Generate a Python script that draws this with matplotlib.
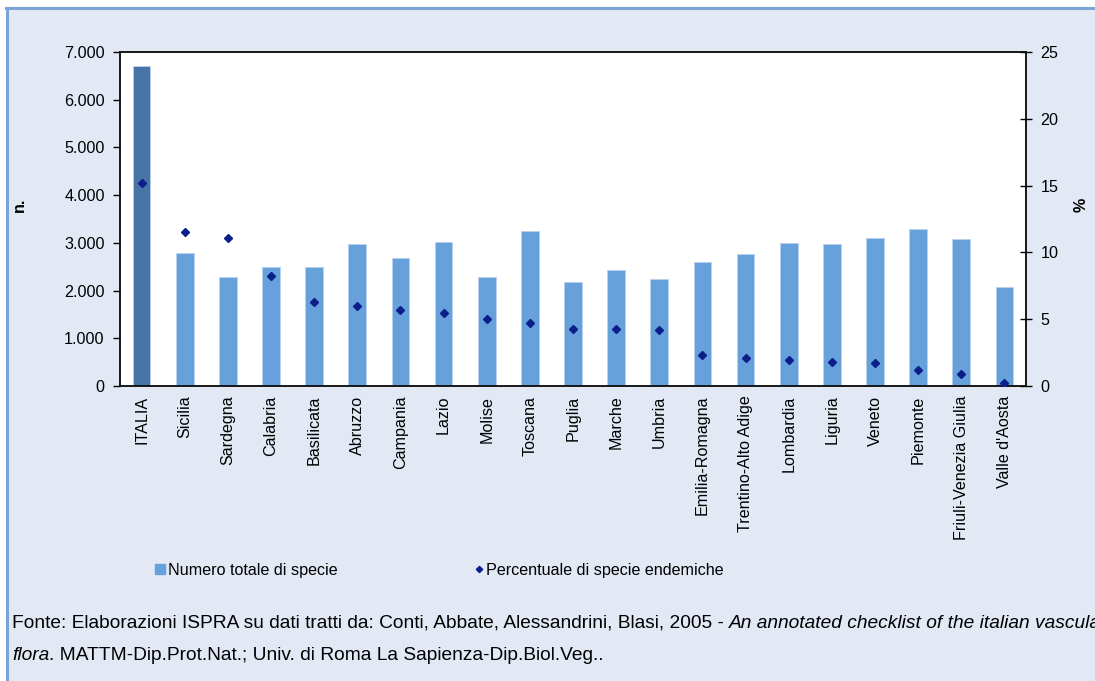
import matplotlib
matplotlib.use("Agg")
import matplotlib.pyplot as plt
from matplotlib.patches import Rectangle
from matplotlib.lines import Line2D
from matplotlib import font_manager
import numpy as np

regioni = ["ITALIA", "Sicilia", "Sardegna", "Calabria", "Basilicata", "Abruzzo",
           "Campania", "Lazio", "Molise", "Toscana", "Puglia", "Marche", "Umbria",
           "Emilia-Romagna", "Trentino-Alto Adige", "Lombardia", "Liguria",
           "Veneto", "Piemonte", "Friuli-Venezia Giulia", "Valle d'Aosta"]
numero_specie = [6711, 2790, 2285, 2495, 2490, 2978, 2683, 3025, 2292, 3243,
                 2187, 2425, 2236, 2600, 2767, 3004, 2970, 3096, 3298, 3082, 2069]
perc_endemiche = [15.2, 11.5, 11.1, 8.2, 6.3, 6.0, 5.7, 5.45, 5.0, 4.75,
                  4.3, 4.3, 4.2, 2.3, 2.1, 1.95, 1.8, 1.7, 1.2, 0.87, 0.25]
yticks_left = [0, 1000, 2000, 3000, 4000, 5000, 6000, 7000]
yticks_right = [0, 5, 10, 15, 20, 25]

plt.rcParams['font.family'] = ['Liberation Sans', 'DejaVu Sans']

installed = {f.name for f in font_manager.fontManager.ttflist}
narrow = 'Liberation Sans Narrow' if 'Liberation Sans Narrow' in installed else 'Liberation Sans'
note_size = 13 if narrow == 'Liberation Sans Narrow' else 13.8
fs = 11.6

bg = '#E2E9F5'
bar_col = '#66A1DC'
italia_col = '#4674A6'
dot_col = '#0B1E8A'

fig = plt.figure(figsize=(10.95, 6.81), dpi=100)
fig.patch.set_facecolor('white')
W, H = 1095.0, 681.0
# background panel with blue frame on top / left
fig.patches.append(Rectangle((8 / W, -0.1), 1.2, (H - 8) / H + 0.1, transform=fig.transFigure,
                             facecolor=bg, edgecolor='none', zorder=-10))
fig.lines.append(Line2D([7 / W, 7 / W], [-0.1, (H - 7.5) / H], transform=fig.transFigure,
                        color='#7AA3D6', lw=2.2, zorder=-5))
fig.lines.append(Line2D([6 / W, 1.1], [(H - 7.5) / H, (H - 7.5) / H], transform=fig.transFigure,
                        color='#7AA3D6', lw=2.2, zorder=-5))

ax = fig.add_axes([120 / W, (H - 386) / H, (1026 - 120) / W, (386 - 52) / H])
ax.set_facecolor('white')
x = np.arange(len(regioni))
colors = [italia_col] + [bar_col] * (len(regioni) - 1)
ax.bar(x, numero_specie, width=0.41, color=colors, edgecolor='#B8D2EE', linewidth=0.6, zorder=2)
ax.set_xlim(-0.5, len(regioni) - 0.5)
ax.set_ylim(0, 7000)
ax.set_yticks(yticks_left)
ax.set_yticklabels([f"{v:,}".replace(",", ".") for v in yticks_left], fontsize=fs)
ax.set_xticks(x)
ax.set_xticklabels(regioni, rotation=90, fontsize=fs)
ax.tick_params(axis='x', length=0, pad=7)
ax.tick_params(axis='y', direction='out', length=5, width=1, pad=6)
ax.set_ylabel('n.', fontsize=fs, fontweight='bold')
ax.yaxis.set_label_coords((27 - 120) / 906, 0.542)
for s in ax.spines.values():
    s.set_linewidth(1.1)
    s.set_color('#111111')

ax2 = ax.twinx()
ax2.plot(x, perc_endemiche, linestyle='none', marker='D', markersize=4.5,
         color=dot_col, zorder=3)
ax2.set_ylim(0, 25)
ax2.set_yticks(yticks_right)
ax2.set_yticklabels([str(v) for v in yticks_right], fontsize=fs)
ax2.tick_params(axis='y', direction='inout', length=9, width=1, pad=6)
ax2.set_ylabel('%', fontsize=fs, fontweight='bold')
ax2.yaxis.set_label_coords((1074 - 120) / 906, 0.542)
for s in ax2.spines.values():
    s.set_linewidth(1.1)
    s.set_color('#111111')

# legend
handles = [Line2D([], [], linestyle='none', marker='s', markersize=6.5, color=bar_col),
           Line2D([], [], linestyle='none', marker='D', markersize=3.2, color=dot_col)]
fig.legend(handles, ['Numero totale di specie', 'Percentuale di specie endemiche'],
           loc='center left', bbox_to_anchor=(141 / W, (H - 570) / H), ncol=2,
           frameon=False, fontsize=fs, handlelength=0.6, handletextpad=0.15,
           columnspacing=8.5)

# source note
y1 = (H - 623) / H
y2 = (H - 655) / H
t1 = fig.text(12 / W, y1, 'Fonte: Elaborazioni ISPRA su dati tratti da: Conti, Abbate, Alessandrini, Blasi, 2005 - ',
              fontsize=note_size, family=narrow, va='center', ha='left')
fig.canvas.draw()
bb = t1.get_window_extent()
fig.text(bb.x1 / W, y1, 'An annotated checklist of the italian vascular',
         fontsize=note_size, family=narrow, style='italic', va='center', ha='left')
t2 = fig.text(12 / W, y2, 'flora', fontsize=note_size, family=narrow, style='italic',
              va='center', ha='left')
fig.canvas.draw()
bb2 = t2.get_window_extent()
fig.text(bb2.x1 / W, y2, '. MATTM-Dip.Prot.Nat.; Univ. di Roma La Sapienza-Dip.Biol.Veg..',
         fontsize=note_size, family=narrow, va='center', ha='left')

fig.savefig('out.png', dpi=100, facecolor=fig.get_facecolor())
